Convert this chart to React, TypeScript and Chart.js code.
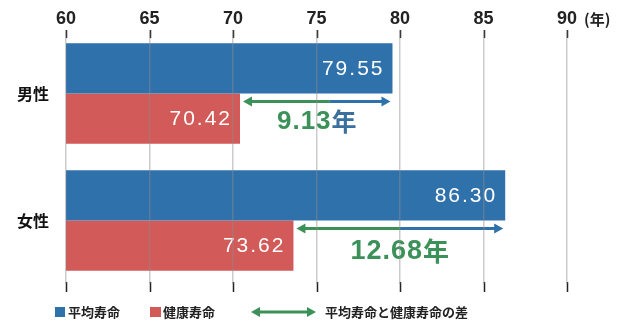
import React, { useEffect, useRef } from "react";
import { Chart, registerables } from "chart.js";

Chart.register(...registerables);

const categories = ["男性", "女性"];
const avgLife = [79.55, 86.3];
const healthyLife = [70.42, 73.62];
const gapLabels = ["9.13", "12.68"];
const gapSplit = [75.8, 80.0];
const xTicks = [60, 65, 70, 75, 80, 85, 90];
const legendLabels = ["平均寿命", "健康寿命", "平均寿命と健康寿命の差"];

const BLUE = "#2f71ab";
const RED = "#d25a58";
const GREEN = "#3c9159";
const FONT = "'Noto Sans CJK JP', 'Noto Sans', sans-serif";
const NUMFONT = "'Liberation Sans', Arial, sans-serif";

function arrowHead(ctx: CanvasRenderingContext2D, x: number, y: number, dir: number, color: string) {
  ctx.fillStyle = color;
  ctx.beginPath();
  ctx.moveTo(x, y);
  ctx.lineTo(x - dir * 9, y - 5);
  ctx.lineTo(x - dir * 9, y + 5);
  ctx.closePath();
  ctx.fill();
}

const overlay = {
  id: "overlay",
  afterDatasetsDraw(chart: any) {
    const ctx = chart.ctx as CanvasRenderingContext2D;
    const xs = chart.scales.x;
    const area = chart.chartArea;
    const m0 = chart.getDatasetMeta(0);
    const m1 = chart.getDatasetMeta(1);
    ctx.save();
    // tick marks at top and bottom
    ctx.strokeStyle = "#222";
    ctx.lineWidth = 1.5;
    xTicks.forEach((t) => {
      const x = Math.round(xs.getPixelForValue(t)) + 0.5;
      ctx.beginPath();
      ctx.moveTo(x, area.top);
      ctx.lineTo(x, area.top + 8);
      ctx.stroke();
      ctx.beginPath();
      ctx.moveTo(x, area.bottom - 2);
      ctx.lineTo(x, area.bottom + 8);
      ctx.stroke();
    });
    // (年) after 90
    ctx.fillStyle = "#222";
    ctx.font = `bold 15px ${FONT}`;
    ctx.textAlign = "left";
    ctx.textBaseline = "middle";
    ctx.fillText("(年)", xs.getPixelForValue(90) + 17, 19);

    // value labels
    ctx.fillStyle = "#ffffff";
    ctx.font = `21px ${NUMFONT}`;
    (ctx as any).letterSpacing = "2px";
    ctx.textAlign = "right";
    m0.data.forEach((el: any, i: number) => {
      ctx.fillText(avgLife[i].toFixed(2), el.x - 8, el.y + 1);
    });
    m1.data.forEach((el: any, i: number) => {
      ctx.fillText(healthyLife[i].toFixed(2), el.x - 8, el.y + 1);
    });
    (ctx as any).letterSpacing = "0px";

    // gap arrows
    m1.data.forEach((el: any, i: number) => {
      const x1 = xs.getPixelForValue(healthyLife[i]) + 3;
      const x2 = xs.getPixelForValue(avgLife[i]) - 2;
      const xm = xs.getPixelForValue(gapSplit[i]);
      const y = el.y - el.height / 2 + 8;
      ctx.lineWidth = 3;
      ctx.strokeStyle = GREEN;
      ctx.beginPath();
      ctx.moveTo(x1 + 6, y);
      ctx.lineTo(xm, y);
      ctx.stroke();
      arrowHead(ctx, x1, y, -1, GREEN);
      ctx.strokeStyle = BLUE;
      ctx.beginPath();
      ctx.moveTo(xm, y);
      ctx.lineTo(x2 - 6, y);
      ctx.stroke();
      arrowHead(ctx, x2, y, 1, BLUE);

      // gap label
      const cx = (x1 + x2) / 2;
      const ly = el.y + 3 + i * 3;
      const num = gapLabels[i];
      const numFont = `bold ${i === 0 ? 26 : 27}px ${NUMFONT}`;
      const yearFont = `bold ${i === 0 ? 25 : 26}px ${FONT}`;
      ctx.font = numFont;
      (ctx as any).letterSpacing = "1px";
      const wNum = ctx.measureText(num).width;
      (ctx as any).letterSpacing = "0px";
      ctx.font = yearFont;
      const wYear = ctx.measureText("年").width;
      const start = cx - (wNum + wYear) / 2;
      ctx.textAlign = "left";
      ctx.fillStyle = GREEN;
      ctx.font = numFont;
      (ctx as any).letterSpacing = "1px";
      ctx.fillText(num, start, ly);
      (ctx as any).letterSpacing = "0px";
      ctx.font = yearFont;
      ctx.fillStyle = i === 0 ? "#3a6f9e" : GREEN;
      ctx.fillText("年", start + wNum, ly);
    });

    // legend
    const ly = 312;
    ctx.font = `bold 13px ${FONT}`;
    ctx.textAlign = "left";
    ctx.textBaseline = "middle";
    ctx.fillStyle = BLUE;
    ctx.fillRect(55, ly - 5, 10, 10);
    ctx.fillStyle = "#222";
    ctx.fillText(legendLabels[0], 68, ly);
    ctx.fillStyle = RED;
    ctx.fillRect(150, ly - 5, 11, 10);
    ctx.fillStyle = "#222";
    ctx.fillText(legendLabels[1], 163, ly);
    ctx.strokeStyle = GREEN;
    ctx.lineWidth = 3;
    ctx.beginPath();
    ctx.moveTo(258, ly);
    ctx.lineTo(308, ly);
    ctx.stroke();
    arrowHead(ctx, 251, ly, -1, GREEN);
    arrowHead(ctx, 316, ly, 1, GREEN);
    ctx.fillStyle = "#222";
    ctx.fillText(legendLabels[2], 325, ly);
    ctx.restore();
  },
};

export default function App() {
  const ref = useRef<HTMLCanvasElement>(null);
  useEffect(() => {
    if (!ref.current) return;
    const chart = new Chart(ref.current, {
      type: "bar",
      data: {
        labels: categories,
        datasets: [
          { label: legendLabels[0], data: avgLife, backgroundColor: BLUE, barPercentage: 1, categoryPercentage: 0.79 },
          { label: legendLabels[1], data: healthyLife, backgroundColor: RED, barPercentage: 1, categoryPercentage: 0.79 },
        ],
      },
      options: {
        indexAxis: "y",
        animation: false,
        responsive: false,
        maintainAspectRatio: false,
        layout: { padding: { top: 0, right: 64, bottom: 38, left: 0 } },
        plugins: { legend: { display: false }, tooltip: { enabled: false } },
        scales: {
          x: {
            position: "top",
            min: 60,
            max: 90,
            afterBuildTicks: (axis: any) => {
              axis.ticks = xTicks.map((v) => ({ value: v }));
            },
            afterFit: (axis: any) => {
              axis.height = 30;
            },
            border: { display: false },
            grid: { color: "rgba(140,140,140,0.45)", lineWidth: 1.5, drawTicks: false, z: 1 },
            ticks: {
              color: "#222",
              padding: 0,
              font: { family: NUMFONT, size: 18, weight: "bold" },
            },
          },
          y: {
            afterFit: (axis: any) => {
              axis.width = 66;
            },
            border: { display: false },
            grid: { display: false },
            ticks: {
              color: "#111",
              padding: 9,
              font: { family: FONT, size: 16, weight: "bold" },
            },
          },
        },
      },
      plugins: [overlay],
    } as any);
    return () => chart.destroy();
  }, []);
  return (
    <div style={{ position: "fixed", left: 0, top: 0, width: 631, height: 322, background: "#fff" }}>
      <canvas ref={ref} width={631} height={322} style={{ width: 631, height: 322, display: "block" }} />
    </div>
  );
}
